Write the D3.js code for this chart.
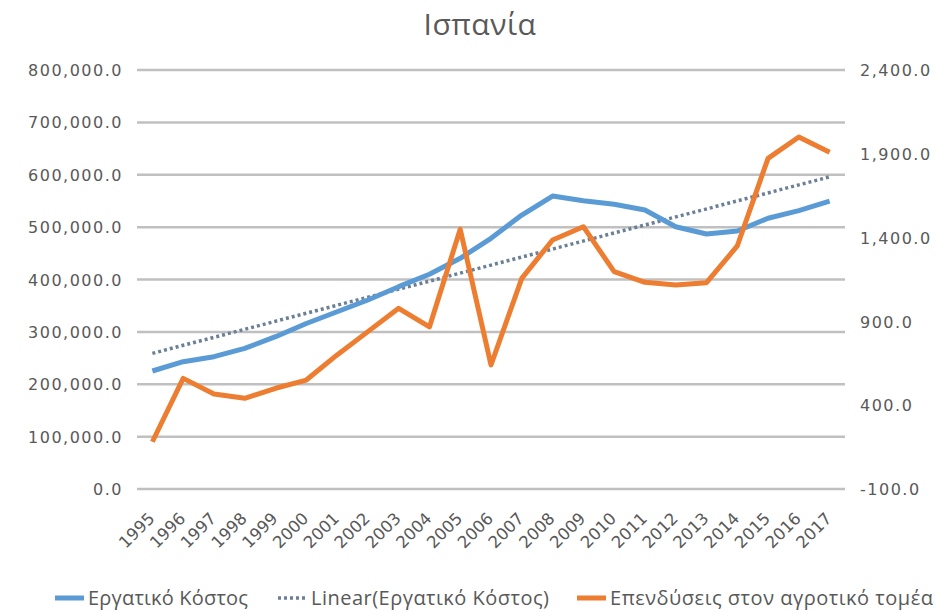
<!DOCTYPE html>
<html>
<head>
<meta charset="utf-8">
<script src="https://cdn.jsdelivr.net/npm/d3@7"></script>
<style>
  body { margin: 0; background: #fff; }
  text { fill: #595959; }
</style>
</head>
<body>
<script>
// chart data
var years = ["1995","1996","1997","1998","1999","2000","2001","2002","2003","2004","2005",
             "2006","2007","2008","2009","2010","2011","2012","2013","2014","2015","2016","2017"];
var laborCost = [225300, 243000, 252600, 268600, 290800, 316000, 338500, 360900, 386300, 410000,
                 440500, 478700, 523000, 559400, 550500, 543600, 532700, 500800, 486900, 492600,
                 517000, 531500, 549500];
var investment = [182, 560, 467, 441, 501, 550, 700, 839, 978, 867, 1450, 640, 1157, 1386, 1465,
                  1197, 1133, 1117, 1131, 1350, 1873, 2000, 1909];
// endpoints of the excel linear trendline
var trendEnds = [259000, 596000];
var leftTicks = [0, 100000, 200000, 300000, 400000, 500000, 600000, 700000, 800000];
var rightTicks = [-100, 400, 900, 1400, 1900, 2400];
var title = "Ισπανία";
var legendLabels = ["Εργατικό Κόστος", "Linear(Εργατικό Κόστος)", "Επενδύσεις στον αγροτικό τομέα"];

var W = 938, H = 613;
var plot = { left: 137, right: 845, top: 70, bottom: 489 };

var svg = d3.select("body").append("svg")
  .attr("width", W)
  .attr("height", H);

var x = d3.scalePoint()
  .domain(years)
  .range([plot.left, plot.right])
  .padding(0.5);

var yL = d3.scaleLinear().domain([0, 800000]).range([plot.bottom, plot.top]);
var yR = d3.scaleLinear().domain([-100, 2400]).range([plot.bottom, plot.top]);

// excel style: plain hyphen for negatives
var fmt = function(d) { return d3.format(",.1f")(d).replace("\u2212", "-"); };
var tickFont = "'DejaVu Sans', sans-serif";

// title
svg.append("text")
  .attr("x", 480)
  .attr("y", 35)
  .attr("text-anchor", "middle")
  .style("font-family", "'Open Sans', sans-serif")
  .style("font-size", "30px")
  .style("letter-spacing", "0.5px")
  .text(title);

// gridlines
svg.append("g").selectAll("line")
  .data(leftTicks)
  .enter().append("line")
  .attr("x1", plot.left).attr("x2", plot.right)
  .attr("y1", d => yL(d)).attr("y2", d => yL(d))
  .style("stroke", "#c0c0c0")
  .style("stroke-width", 2.5);

// left axis
var lAxis = d3.axisLeft(yL).tickValues(leftTicks).tickFormat(fmt).tickSize(0).tickPadding(14);
var lg = svg.append("g").attr("transform", "translate(" + plot.left + ",0)").call(lAxis);
lg.select(".domain").remove();
lg.selectAll("text")
  .attr("dy", "0.35em")
  .style("font-family", tickFont)
  .style("font-size", "16px")
  .style("letter-spacing", "1.5px")
  .style("fill", "#595959");

// right axis
var rAxis = d3.axisRight(yR).tickValues(rightTicks).tickFormat(fmt).tickSize(0).tickPadding(15);
var rg = svg.append("g").attr("transform", "translate(" + plot.right + ",0)").call(rAxis);
rg.select(".domain").remove();
rg.selectAll("text")
  .attr("dy", "0.35em")
  .style("font-family", tickFont)
  .style("font-size", "16px")
  .style("letter-spacing", "1.5px")
  .style("fill", "#595959");

// x axis, rotated years
var xAxis = d3.axisBottom(x).tickSize(0).tickPadding(0);
var xg = svg.append("g").attr("transform", "translate(0," + (plot.bottom + 25) + ")").call(xAxis);
xg.select(".domain").remove();
xg.selectAll("text")
  .attr("text-anchor", "end")
  .attr("y", 0)
  .attr("dx", "-2")
  .attr("dy", "0.35em")
  .attr("transform", "rotate(-45)")
  .style("font-family", tickFont)
  .style("font-size", "16.5px")
  .style("fill", "#595959");

// trendline
svg.append("line")
  .attr("x1", x(years[0])).attr("x2", x(years[years.length - 1]))
  .attr("y1", yL(trendEnds[0])).attr("y2", yL(trendEnds[1]))
  .style("stroke", "#6b8097")
  .style("stroke-width", 3.5)
  .style("stroke-dasharray", "3,3");

var lineL = d3.line().x((d, i) => x(years[i])).y(d => yL(d));
var lineR = d3.line().x((d, i) => x(years[i])).y(d => yR(d));

svg.append("path")
  .datum(laborCost)
  .attr("d", lineL)
  .style("fill", "none")
  .style("stroke", "#5b9bd5")
  .style("stroke-width", 5)
  .style("stroke-linejoin", "round");

svg.append("path")
  .datum(investment)
  .attr("d", lineR)
  .style("fill", "none")
  .style("stroke", "#ed7d31")
  .style("stroke-width", 5)
  .style("stroke-linejoin", "round");

// legend
var legend = [
  { x: 55, w: 160, label: legendLabels[0], color: "#5b9bd5", dash: null },
  { x: 278, w: 238, label: legendLabels[1], color: "#6b8097", dash: "3,3" },
  { x: 577, w: 323, label: legendLabels[2], color: "#ed7d31", dash: null }
];
var lgd = svg.append("g").selectAll("g")
  .data(legend)
  .enter().append("g")
  .attr("transform", d => "translate(" + d.x + ",598)");
lgd.append("line")
  .attr("x1", 0).attr("x2", 29)
  .style("stroke", d => d.color)
  .style("stroke-width", d => d.dash ? 3.5 : 5)
  .style("stroke-dasharray", d => d.dash);
lgd.append("text")
  .attr("x", 33)
  .attr("dy", "0.35em")
  .attr("textLength", d => d.w)
  .style("font-family", "'Open Sans', sans-serif")
  .style("font-size", "20px")
  .text(d => d.label);
</script>
</body>
</html>
